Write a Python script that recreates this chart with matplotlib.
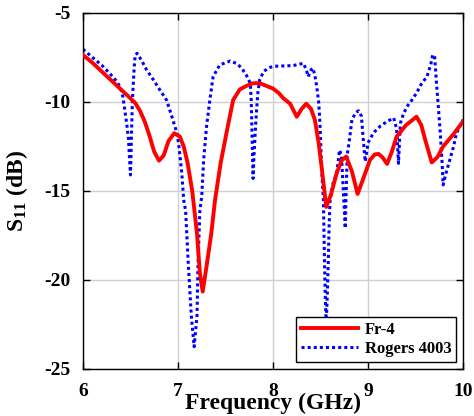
import matplotlib
matplotlib.use("Agg")
import matplotlib.pyplot as plt

# Fr-4 measured S11
fr4_f = [6.00, 6.10, 6.20, 6.30, 6.40, 6.50, 6.55, 6.60, 6.65, 6.70, 6.75, 6.80, 6.85, 6.90,
         6.96, 7.02, 7.06, 7.10, 7.15, 7.20, 7.23, 7.26, 7.30, 7.35, 7.39, 7.45, 7.51, 7.58,
         7.65, 7.72, 7.79, 7.86, 7.93, 8.00, 8.06, 8.11, 8.18, 8.25, 8.30, 8.35, 8.40, 8.44,
         8.48, 8.51, 8.56, 8.61, 8.67, 8.72, 8.77, 8.83, 8.89, 8.95, 9.02, 9.07, 9.11, 9.15,
         9.20, 9.25, 9.30, 9.40, 9.51, 9.56, 9.60, 9.67, 9.73, 9.79, 9.90, 10.00]
fr4_s11 = [-7.36, -7.8, -8.3, -8.8, -9.3, -9.8, -10.06, -10.5, -11.1, -11.9, -12.8, -13.3, -13.0, -12.2,
           -11.76, -11.95, -12.5, -13.4, -15.0, -17.4, -19.6, -20.65, -19.25, -17.4, -15.5, -13.4, -11.75, -9.9,
           -9.3, -9.1, -8.95, -8.95, -9.1, -9.25, -9.5, -9.8, -10.1, -10.83, -10.4, -10.1, -10.4, -11.0,
           -12.3, -13.6, -15.9, -15.2, -14.0, -13.3, -13.07, -13.9, -15.17, -14.3, -13.26, -12.95, -12.92, -13.1,
           -13.48, -12.8, -11.95, -11.3, -10.83, -11.3, -12.1, -13.4, -13.1, -12.5, -11.8, -11.1]

# Rogers 4003 measured S11
ro_f = [6.00, 6.10, 6.20, 6.28, 6.34, 6.39, 6.42, 6.44, 6.46, 6.48, 6.49, 6.50, 6.51, 6.52,
        6.54, 6.55, 6.57, 6.62, 6.67, 6.74, 6.81, 6.88, 6.93, 6.99, 7.01, 7.04, 7.06, 7.08,
        7.11, 7.14, 7.17, 7.20, 7.21, 7.23, 7.25, 7.27, 7.30, 7.34, 7.37, 7.44, 7.55, 7.62,
        7.67, 7.72, 7.76, 7.77, 7.78, 7.79, 7.80, 7.82, 7.84, 7.86, 7.90, 7.95, 8.00, 8.10,
        8.21, 8.32, 8.35, 8.37, 8.40, 8.42, 8.44, 8.46, 8.48, 8.49, 8.50, 8.51, 8.53, 8.54,
        8.55, 8.56, 8.57, 8.58, 8.59, 8.60, 8.63, 8.67, 8.70, 8.72, 8.74, 8.76, 8.77, 8.78,
        8.80, 8.83, 8.87, 8.90, 8.93, 8.95, 8.97, 9.00, 9.04, 9.07, 9.13, 9.20, 9.27, 9.30,
        9.32, 9.34, 9.37, 9.41, 9.46, 9.51, 9.56, 9.62, 9.66, 9.68, 9.70, 9.72, 9.74, 9.76,
        9.78, 9.79, 9.82, 9.86, 9.90, 9.93, 10.00]
ro_s11 = [-7.04, -7.5, -7.95, -8.39, -8.75, -9.14, -9.7, -10.45, -11.2, -12.13, -13.2, -14.1, -12.0, -9.9,
          -8.0, -7.36, -7.27, -7.7, -8.2, -8.75, -9.33, -9.9, -10.73, -11.76, -12.5, -14.0, -15.5, -16.1,
          -19.25, -22.0, -23.75, -22.0, -19.25, -16.1, -15.3, -13.26, -11.4, -9.7, -8.58, -7.92, -7.7, -7.85,
          -8.1, -8.5, -8.95, -9.8, -12.0, -14.3, -13.0, -11.0, -9.5, -8.76, -8.3, -8.1, -8.0, -7.98,
          -7.96, -7.83, -8.2, -8.58, -8.2, -8.1, -8.5, -9.14, -10.0, -10.83, -12.0, -13.6, -15.5, -18.5,
          -21.0, -22.4, -21.0, -19.25, -17.0, -15.5, -14.6, -14.0, -12.7, -13.0, -15.0, -17.1, -15.0, -13.0,
          -12.3, -11.0, -10.6, -10.5, -10.8, -12.13, -13.35, -12.3, -11.9, -11.67, -11.35, -11.1, -10.9, -11.5,
          -13.45, -11.2, -10.7, -10.26, -9.9, -9.5, -9.0, -8.58, -7.9, -7.36, -7.4, -8.95, -10.3, -11.76,
          -13.5, -14.66, -14.0, -13.26, -12.5, -11.76, -11.0]

series_labels = ["Fr-4", "Rogers 4003"]
x_ticks = [6, 7, 8, 9, 10]
y_ticks = [-25, -20, -15, -10, -5]

plt.rcParams['font.family'] = ['Liberation Serif', 'DejaVu Serif']
plt.rcParams['font.weight'] = 'bold'
plt.rcParams['axes.unicode_minus'] = False
plt.rcParams['mathtext.fontset'] = 'custom'
plt.rcParams['mathtext.rm'] = 'Liberation Serif:bold'
plt.rcParams['mathtext.it'] = 'Liberation Serif:bold'
plt.rcParams['mathtext.bf'] = 'Liberation Serif:bold'

fig = plt.figure(figsize=(4.74, 4.16), dpi=100)
ax = fig.add_axes([0.175, 0.113, 0.802, 0.856])

ax.plot(fr4_f, fr4_s11, color='#ff0000', lw=2.8, label=series_labels[0], zorder=3)
ax.plot(ro_f, ro_s11, color='#0000ff', lw=2.2, dashes=(1, 1), label=series_labels[1], zorder=2)

ax.set_xlim(6, 10)
ax.set_ylim(-25, -5)
ax.set_xticks(x_ticks)
ax.set_yticks(y_ticks)
ax.set_xticklabels([str(v) for v in x_ticks], fontsize=14, fontweight='bold')
ax.set_yticklabels([str(v) for v in y_ticks], fontsize=14, fontweight='bold')
ax.grid(True, color='#d0d0d0', lw=1.0)
ax.set_axisbelow(True)
ax.tick_params(direction='in', top=True, right=True, length=5, width=1, pad=9)
ax.tick_params(axis='x', pad=10)
for s in ax.spines.values():
    s.set_linewidth(1.0)

ax.set_xlabel('Frequency (GHz)', fontsize=17, fontweight='bold', labelpad=-5)
ax.set_ylabel(r'S$_{11}$ (dB)', fontsize=17, fontweight='bold', labelpad=10)

leg = ax.legend(loc='lower right', prop={'weight': 'bold', 'size': 12},
                frameon=True, fancybox=False, edgecolor='black', framealpha=1,
                handlelength=3.4, borderaxespad=0.4, borderpad=0.3, labelspacing=0.2,
                handletextpad=0.4)
leg.get_frame().set_linewidth(1.0)

fig.savefig('out.png', dpi=100)
